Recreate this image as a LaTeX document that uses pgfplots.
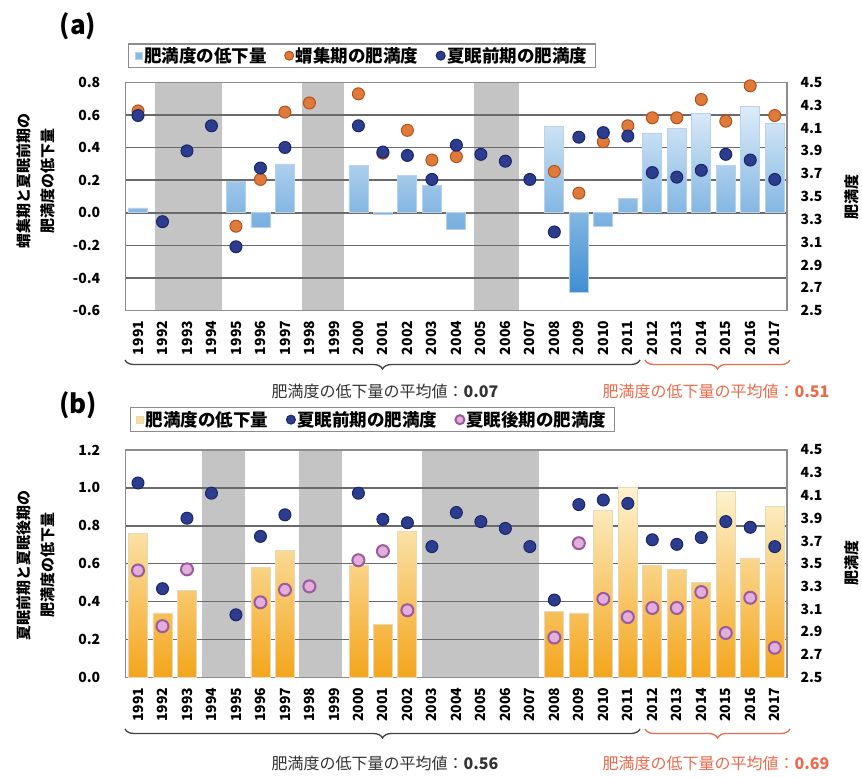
\documentclass[border=0pt]{standalone}
\usepackage{pgfplots}
\pgfplotsset{compat=1.18}
\usepackage{fontspec}
\setmainfont{Noto Sans CJK JP}
\usetikzlibrary{decorations.pathreplacing}

\definecolor{shade}{HTML}{C4C4C4}
\definecolor{gridc}{HTML}{6A6A6A}
\definecolor{framec}{HTML}{8C8C8C}
\definecolor{bluetop}{HTML}{DDECF8}
\definecolor{bluebot}{HTML}{3F8ED2}
\definecolor{blueedge}{HTML}{B8D2EA}
\definecolor{orgtop}{HTML}{FDF3CF}
\definecolor{orgbot}{HTML}{F4A51C}
\definecolor{orgedge}{HTML}{E6D8B8}
\definecolor{dotor}{HTML}{E07A3A}
\definecolor{dotorE}{HTML}{B0521E}
\definecolor{dotbl}{HTML}{2C3C8E}
\definecolor{dotblE}{HTML}{1A2766}
\definecolor{dotpk}{HTML}{E3AEDB}
\definecolor{dotpkE}{HTML}{9A5A9E}
\definecolor{redtxt}{HTML}{EC6A4C}

\pgfplotsset{
  base/.style={scale only axis, width=661.25pt, xmin=-0.5, xmax=26.5, anchor=south west},
  barsax/.style={
    axis line style={framec, line width=1.2pt},
    major tick length=0pt,
    xtick={0,...,26},
    xticklabels={1991,1992,1993,1994,1995,1996,1997,1998,1999,2000,2001,2002,2003,2004,2005,2006,2007,2008,2009,2010,2011,2012,2013,2014,2015,2016,2017},
    xtick pos=bottom, ytick pos=left,
    xticklabel style={rotate=90, anchor=east, inner xsep=10pt, inner ysep=0pt, font=\bfseries\fontsize{14}{14}\selectfont},
    yticklabel style={font=\bfseries\fontsize{14}{14}\selectfont, xshift=-22pt, /pgf/number format/fixed, /pgf/number format/fixed zerofill, /pgf/number format/precision=1},
    /pgf/number format/assume math mode=true,
    ymajorgrids, major grid style={gridc, line width=1.5pt},
  },
  dotsax/.style={
    axis line style={draw=none}, major tick length=0pt,
    xtick=\empty, ytick pos=right, yticklabel pos=right,
    ymin=2.5, ymax=4.5, ytick={2.5,2.7,2.9,3.1,3.3,3.5,3.7,3.9,4.1,4.3,4.5},
    yticklabel style={font=\bfseries\fontsize{14}{14}\selectfont, xshift=10pt, /pgf/number format/fixed, /pgf/number format/fixed zerofill, /pgf/number format/precision=1},
    /pgf/number format/assume math mode=true,
    clip=false,
    legend columns=3,
    legend image post style={mark size=4.5pt},
    legend style={draw=framec, line width=1.2pt, fill=white, font=\bfseries\fontsize{17.5}{17.5}\selectfont, inner ysep=1.5pt, inner xsep=6pt,
      /tikz/every even column/.append style={column sep=16pt}},
    legend cell align=left,
  },
  dotor/.style={only marks, mark=*, mark size=6pt, mark options={fill=dotor, draw=dotorE, line width=1pt}},
  dotbl/.style={only marks, mark=*, mark size=6pt, mark options={fill=dotbl, draw=dotblE, line width=1pt}},
  dotpk/.style={only marks, mark=*, mark size=6pt, mark options={fill=dotpk, draw=dotpkE, line width=2pt}},
}

\begin{document}
\begin{tikzpicture}[x=1pt,y=1pt]
\path[use as bounding box] (0,0) rectangle (862,-777);

%================ panel (a) =================
\begin{axis}[base, at={(125.75pt,-310.7pt)}, height=228.3pt, ymin=-0.6, ymax=0.8, hide axis]
\addplot[fill=shade, draw=none] coordinates {(0.7,-0.6) (0.7,0.8) (3.45,0.8) (3.45,-0.6)} -- cycle;
\addplot[fill=shade, draw=none] coordinates {(6.7,-0.6) (6.7,0.8) (8.4,0.8) (8.4,-0.6)} -- cycle;
\addplot[fill=shade, draw=none] coordinates {(13.7,-0.6) (13.7,0.8) (15.55,0.8) (15.55,-0.6)} -- cycle;
\end{axis}

\begin{axis}[base, barsax, at={(125.75pt,-310.7pt)}, height=228.3pt, ymin=-0.6, ymax=0.8,
  ytick={-0.6,-0.4,-0.2,0,0.2,0.4,0.6,0.8}]
\addplot[ybar, bar width=19pt, draw=blueedge, line width=0.8pt, top color=bluetop, bottom color=bluebot]
 coordinates {(0,0.03) (4,0.19) (5,-0.09) (6,0.30) (9,0.29) (10,-0.01) (11,0.23) (12,0.17) (13,-0.10)
 (17,0.53) (18,-0.49) (19,-0.08) (20,0.09) (21,0.49) (22,0.52) (23,0.61) (24,0.29) (25,0.65) (26,0.55)};
\end{axis}

\begin{axis}[base, dotsax, at={(125.75pt,-310.7pt)}, height=228.3pt,
  legend style={at={(0.0034,1.063)}, anchor=south west}]
\addlegendimage{legend image code/.code={\draw[fill=bluetop!45!bluebot, draw=blueedge, line width=0.6pt] (0pt,-3.5pt) rectangle (7pt,3.5pt);}}
\addlegendentry{肥満度の低下量}
\addplot[dotor] coordinates {(0,4.25) (4,3.24) (5,3.65) (6,4.24) (7,4.32) (9,4.40) (10,3.88) (11,4.08) (12,3.82) (13,3.85)
 (17,3.72) (18,3.53) (19,3.98) (20,4.12) (21,4.19) (22,4.19) (23,4.35) (24,4.16) (25,4.47) (26,4.21)};
\addlegendentry{蝟集期の肥満度}
\addplot[dotbl] coordinates {(0,4.21) (1,3.28) (2,3.90) (3,4.12) (4,3.06) (5,3.75) (6,3.93) (9,4.12) (10,3.89) (11,3.86)
 (12,3.65) (13,3.95) (14,3.87) (15,3.81) (16,3.65) (17,3.19) (18,4.02) (19,4.06) (20,4.03) (21,3.71) (22,3.67)
 (23,3.73) (24,3.87) (25,3.82) (26,3.65)};
\addlegendentry{夏眠前期の肥満度}
\end{axis}

%================ panel (b) =================
\begin{axis}[base, at={(125.75pt,-677.3pt)}, height=227.3pt, ymin=0, ymax=1.2, hide axis]
\addplot[fill=shade, draw=none] coordinates {(2.6,0) (2.6,1.2) (4.37,1.2) (4.37,0)} -- cycle;
\addplot[fill=shade, draw=none] coordinates {(6.57,0) (6.57,1.2) (8.33,1.2) (8.33,0)} -- cycle;
\addplot[fill=shade, draw=none] coordinates {(11.6,0) (11.6,1.2) (16.37,1.2) (16.37,0)} -- cycle;
\end{axis}

\begin{axis}[base, barsax, at={(125.75pt,-677.3pt)}, height=227.3pt, ymin=0, ymax=1.2,
  ytick={0,0.2,0.4,0.6,0.8,1.0,1.2}]
\addplot[ybar, bar width=19pt, draw=orgedge, line width=0.8pt, top color=orgtop, bottom color=orgbot]
 coordinates {(0,0.76) (1,0.34) (2,0.46) (5,0.58) (6,0.67) (9,0.59) (10,0.28) (11,0.77)
 (17,0.35) (18,0.34) (19,0.88) (20,1.00) (21,0.59) (22,0.57) (23,0.50) (24,0.98) (25,0.63) (26,0.90)};
\end{axis}

\begin{axis}[base, dotsax, at={(125.75pt,-677.3pt)}, height=227.3pt,
  legend style={at={(0.006,1.079)}, anchor=south west}]
\addlegendimage{legend image code/.code={\draw[fill=orgtop!70!orgbot, draw=orgedge, line width=0.6pt] (0pt,-3.5pt) rectangle (7pt,3.5pt);}}
\addlegendentry{肥満度の低下量}
\addplot[dotbl] coordinates {(0,4.21) (1,3.28) (2,3.90) (3,4.12) (4,3.05) (5,3.74) (6,3.93) (9,4.12) (10,3.89) (11,3.86)
 (12,3.65) (13,3.95) (14,3.87) (15,3.81) (16,3.65) (17,3.18) (18,4.02) (19,4.06) (20,4.03) (21,3.71) (22,3.67)
 (23,3.73) (24,3.87) (25,3.82) (26,3.65)};
\addlegendentry{夏眠前期の肥満度}
\addplot[dotpk] coordinates {(0,3.44) (1,2.95) (2,3.45) (5,3.16) (6,3.27) (7,3.30) (9,3.53) (10,3.61) (11,3.09)
 (17,2.85) (18,3.68) (19,3.19) (20,3.03) (21,3.11) (22,3.11) (23,3.25) (24,2.89) (25,3.20) (26,2.76)};
\addlegendentry{夏眠後期の肥満度}
\end{axis}

%================ annotations =================
\node[font=\bfseries\fontsize{26}{26}\selectfont] at (78,-26) {(a)};
\node[font=\bfseries\fontsize{26}{26}\selectfont] at (78,-405) {(b)};

\node[rotate=90, align=center, font=\bfseries\fontsize{15}{24}\selectfont] at (36,-181) {蝟集期と夏眠前期の\\肥満度の低下量};
\node[rotate=90, align=center, font=\bfseries\fontsize{15}{24}\selectfont] at (36,-565) {夏眠前期と夏眠後期の\\肥満度の低下量};
\node[rotate=90, font=\bfseries\fontsize{15}{15}\selectfont] at (852,-197) {肥満度};
\node[rotate=90, font=\bfseries\fontsize{15}{15}\selectfont] at (852,-563) {肥満度};

\draw[line width=1.3pt, black!75, decorate, decoration={brace, mirror, amplitude=9pt}] (125,-360) -- (640,-360);
\draw[line width=1.3pt, redtxt, decorate, decoration={brace, mirror, amplitude=9pt}] (645,-360) -- (790,-360);
\node[font=\fontsize{16}{16}\selectfont, text=black!80] at (385,-391) {肥満度の低下量の平均値：\textbf{0.07}};
\node[font=\fontsize{16}{16}\selectfont, text=redtxt] at (716,-391) {肥満度の低下量の平均値：\textbf{0.51}};

\draw[line width=1.3pt, black!75, decorate, decoration={brace, mirror, amplitude=9pt}] (125,-729) -- (640,-729);
\draw[line width=1.3pt, redtxt, decorate, decoration={brace, mirror, amplitude=9pt}] (645,-729) -- (790,-729);
\node[font=\fontsize{16}{16}\selectfont, text=black!80] at (385,-763) {肥満度の低下量の平均値：\textbf{0.56}};
\node[font=\fontsize{16}{16}\selectfont, text=redtxt] at (716,-763) {肥満度の低下量の平均値：\textbf{0.69}};
\end{tikzpicture}
\end{document}
